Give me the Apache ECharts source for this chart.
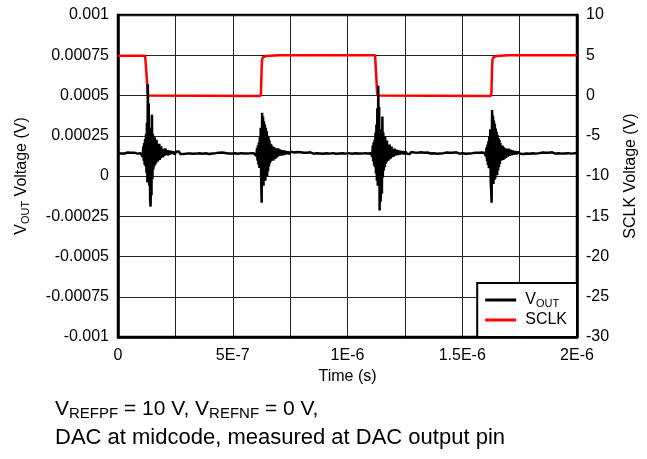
<!DOCTYPE html>
<html>
<head>
<meta charset="utf-8">
<script src="https://cdn.jsdelivr.net/npm/echarts@6/dist/echarts.min.js"></script>
<style>
html, body { margin: 0; padding: 0; background: #fff; }
#chart { width: 647px; height: 459px; }
</style>
</head>
<body>
<div id="chart"></div>
<script>
// tick labels
const xTickLabels = ['0', '', '5E-7', '', '1E-6', '', '1.5E-6', '', '2E-6'];
const yLeftLabels = ['-0.001', '-0.00075', '-0.0005', '-0.00025', '0', '0.00025', '0.0005', '0.00075', '0.001'];

// VOUT trace: [time ns, value uV]
const voutPoints = [
  [0,142],[7,145],[14,140],[21,144],[28,139],[35,143],[42,146],[49,141],[56,144],[63,140],[70,145],[77,142],[84,139],[91,144],[98,141],[104,146],
  // glitch 1
  [108,120],[110,185],[112,95],[114,205],[116,70],[118,230],[120,60],[122,260],[124,20],[126,330],[128,-40],[130,570],[132,180],[134,450],[136,-60],[138,300],[140,-150],[142,-190],[144,80],[146,-120],[148,380],[150,-20],[152,260],[154,40],[156,230],[158,60],[160,240],[162,70],[164,210],[166,80],[168,225],[170,95],[172,200],[174,90],[176,190],[178,110],[180,200],[182,100],[184,175],[186,110],[188,185],[190,120],[193,170],[196,115],[199,165],[202,125],[206,172],[210,130],[214,160],[218,128],[222,158],[226,134],[231,155],[236,138],[241,152],[247,134],[253,150],[259,139],[265,153],[271,137],[278,148],[285,136],[292,147],[299,139],
  [306,146],[313,140],[320,148],[327,138],[334,145],[341,139],[348,147],[355,141],[362,144],[369,138],[376,146],[383,141],[390,143],[397,137],[404,145],[411,140],[418,147],[425,142],[432,139],[439,145],[446,140],[453,146],[460,138],[467,143],[474,147],[481,140],[488,144],[495,139],[502,146],[509,141],[516,143],[523,138],[530,145],[537,142],[544,147],[551,140],[558,144],[565,139],[572,146],[579,142],[586,145],[592,141],
  // glitch 2
  [596,143],[600,150],[603,125],[606,175],[608,95],[610,190],[612,70],[614,210],[616,50],[618,240],[620,60],[622,300],[624,-40],[626,-166],[628,393],[630,120],[632,370],[634,-60],[636,340],[638,-20],[640,320],[642,-30],[644,300],[646,10],[648,280],[650,0],[652,250],[654,30],[656,240],[658,60],[660,220],[662,80],[664,200],[666,90],[668,195],[670,100],[673,185],[676,95],[679,180],[682,105],[685,175],[688,110],[691,170],[694,118],[698,172],[702,125],[706,165],[710,128],[715,160],[720,130],[726,158],[732,135],[738,152],[745,137],[752,150],[760,138],
  [768,146],[775,140],[782,149],[789,138],[796,147],[803,141],[810,145],[817,137],[824,144],[831,140],[838,147],[845,142],[852,139],[859,145],[866,141],[873,148],[880,140],[887,144],[894,138],[901,146],[908,141],[915,143],[922,139],[929,147],[936,142],[943,145],[950,138],[957,144],[964,140],[971,146],[978,141],[985,143],[992,139],[999,147],[1006,142],[1013,144],[1020,138],[1027,145],[1034,141],[1041,146],[1048,140],[1055,143],[1062,139],[1069,145],[1076,142],[1083,147],[1090,140],[1097,144],[1103,142],
  // glitch 3
  [1108,118],[1110,190],[1112,92],[1114,210],[1116,65],[1118,225],[1120,55],[1122,270],[1124,15],[1126,320],[1128,-30],[1130,420],[1132,-60],[1134,560],[1136,170],[1138,430],[1140,-215],[1142,290],[1144,-160],[1146,-70],[1148,70],[1150,-110],[1152,370],[1154,-10],[1156,270],[1158,35],[1160,235],[1162,55],[1164,245],[1166,75],[1168,215],[1170,85],[1172,220],[1174,100],[1176,195],[1178,95],[1180,190],[1182,108],[1184,195],[1186,105],[1188,178],[1190,112],[1192,182],[1195,118],[1198,168],[1201,120],[1205,170],[1209,127],[1213,163],[1217,130],[1221,160],[1226,132],[1231,156],[1236,136],[1241,153],[1247,135],[1253,151],[1259,138],[1265,150],[1271,136],[1278,149],[1285,138],[1292,146],[1299,140],
  [1306,145],[1313,139],[1320,147],[1327,141],[1334,144],[1341,137],[1348,146],[1355,142],[1362,140],[1369,147],[1376,141],[1383,145],[1390,138],[1397,144],[1404,140],[1411,148],[1418,142],[1425,139],[1432,146],[1439,141],[1446,144],[1453,137],[1460,145],[1467,140],[1474,147],[1481,143],[1488,139],[1495,145],[1502,141],[1509,146],[1516,138],[1523,144],[1530,140],[1537,147],[1544,142],[1551,139],[1558,145],[1565,141],[1572,144],[1579,139],[1586,146],[1592,142],
  // glitch 4
  [1596,144],[1600,152],[1603,122],[1606,178],[1608,92],[1610,195],[1612,68],[1614,215],[1616,48],[1618,245],[1620,55],[1622,290],[1624,-30],[1626,-90],[1628,-166],[1630,410],[1632,130],[1634,375],[1636,-50],[1638,345],[1640,-25],[1642,325],[1644,-15],[1646,295],[1648,15],[1650,275],[1652,5],[1654,255],[1656,35],[1658,235],[1660,55],[1662,225],[1664,75],[1666,205],[1668,95],[1670,190],[1673,98],[1676,188],[1679,100],[1682,178],[1685,108],[1688,172],[1691,112],[1694,168],[1698,120],[1702,170],[1706,126],[1710,163],[1715,129],[1720,158],[1726,133],[1732,154],[1738,136],[1745,151],[1752,138],[1759,149],
  [1766,137],[1773,147],[1780,140],[1787,145],[1794,138],[1801,146],[1808,141],[1815,144],[1822,139],[1829,147],[1836,142],[1843,140],[1850,146],[1857,141],[1864,145],[1871,138],[1878,144],[1885,140],[1892,147],[1899,142],[1906,139],[1913,145],[1920,141],[1927,146],[1934,139],[1941,144],[1948,140],[1955,147],[1962,142],[1969,145],[1976,139],[1983,144],[1990,141],[1996,143],[2000,142]
];

// SCLK trace: [time ns, volts]
const sclkPoints = [
  [0,4.95],[118,4.95],[122,4.8],[126,2],[129,0.3],[132,0],[136,-0.05],
  [620,-0.05],[623,0.3],[626,3.5],[628,4.5],[632,4.75],[645,4.9],[700,5],
  [1120,5],[1122,4.8],[1126,2],[1129,0.3],[1132,0],[1136,-0.05],
  [1624,-0.05],[1627,0.3],[1630,3.5],[1632,4.5],[1636,4.75],[1650,4.9],[1700,5],[2000,5]
];

const FONT = '"Liberation Sans", Arial, Helvetica, sans-serif';

function initChart(){
  let myChart = echarts.init(document.getElementById('chart'));

  let option = {
    animation: false,
    grid: {
      left: 118,
      right: 70,
      top: 15,
      bottom: 122,
      show: true,
      borderColor: '#000',
      borderWidth: 2.5
    },
    legend: {
      data: ['VOUT', 'SCLK'],
      orient: 'vertical',
      right: 70,
      bottom: 122,
      backgroundColor: '#fff',
      borderColor: '#000',
      borderWidth: 2,
      padding: [9, 10, 9, 8],
      itemGap: 3,
      itemWidth: 31,
      itemHeight: 3,
      icon: 'rect',
      formatter: function (name) {
        return name === 'VOUT' ? '{v|V}{s|OUT}' : '{v|SCLK}';
      },
      textStyle: {
        color: '#000',
        fontFamily: FONT,
        fontSize: 16,
        padding: [0, 0, 0, 4],
        rich: {
          v: { fontSize: 16, fontFamily: FONT, color: '#000' },
          s: { fontSize: 11, fontFamily: FONT, color: '#000', padding: [7, 0, 0, 0] }
        }
      }
    },
    xAxis: {
      type: 'value',
      min: 0,
      max: 2e-6,
      interval: 2.5e-7,
      name: 'Time (s)',
      nameLocation: 'middle',
      nameGap: 31,
      nameTextStyle: { color: '#000', fontFamily: FONT, fontSize: 16 },
      axisLine: { show: true, onZero: false, lineStyle: { color: '#000', width: 2.5 } },
      axisTick: { show: false },
      splitLine: { show: true, lineStyle: { color: '#222', width: 1 } },
      axisLabel: {
        color: '#000',
        fontFamily: FONT,
        fontSize: 16,
        margin: 11,
        formatter: function (v) {
          return xTickLabels[Math.round(v / 2.5e-7)] || '';
        }
      }
    },
    yAxis: [
      {
        type: 'value',
        min: -0.001,
        max: 0.001,
        interval: 0.00025,
        name: '{v|V}{s|OUT}{v| Voltage (V)}',
        nameLocation: 'middle',
        nameRotate: 90,
        nameGap: 87,
        nameTextStyle: {
          color: '#000',
          fontFamily: FONT,
          fontSize: 16,
          rich: {
            v: { fontSize: 16, fontFamily: FONT, color: '#000' },
            s: { fontSize: 11, fontFamily: FONT, color: '#000', padding: [7, 0, 0, 0] }
          }
        },
        axisLine: { show: true, onZero: false, lineStyle: { color: '#000', width: 2.5 } },
        axisTick: { show: false },
        splitLine: { show: true, lineStyle: { color: '#222', width: 1 } },
        axisLabel: {
          color: '#000',
          fontFamily: FONT,
          fontSize: 16,
          margin: 9,
          formatter: function (v) {
            return yLeftLabels[Math.round((v + 0.001) / 0.00025)];
          }
        }
      },
      {
        type: 'value',
        position: 'right',
        min: -30,
        max: 10,
        interval: 5,
        name: 'SCLK Voltage (V)',
        nameLocation: 'middle',
        nameRotate: 90,
        nameGap: 46,
        nameTextStyle: { color: '#000', fontFamily: FONT, fontSize: 16 },
        axisLine: { show: true, onZero: false, lineStyle: { color: '#000', width: 2.5 } },
        axisTick: { show: false },
        splitLine: { show: false },
        axisLabel: { color: '#000', fontFamily: FONT, fontSize: 16, margin: 9 }
      }
    ],
    graphic: [
      {
        type: 'text',
        left: 55,
        top: 399,
        style: {
          text: '{n|V}{s|REFPF}{n| = 10 V, V}{s|REFNF}{n| = 0 V,}',
          rich: {
            n: { fontSize: 21, fontFamily: FONT, fill: '#000' },
            s: { fontSize: 15, fontFamily: FONT, fill: '#000', padding: [9, 0, 0, 0] }
          }
        }
      },
      {
        type: 'text',
        left: 55,
        top: 427,
        style: {
          text: 'DAC at midcode, measured at DAC output pin',
          fontSize: 22,
          fontFamily: FONT,
          fill: '#000'
        }
      }
    ],
    series: [
      {
        name: 'SCLK',
        type: 'line',
        yAxisIndex: 1,
        showSymbol: false,
        symbol: 'none',
        z: 2,
        lineStyle: { color: '#ff0000', width: 2.5 },
        itemStyle: { color: '#ff0000' },
        data: sclkPoints.map(p => [p[0] * 1e-9, p[1]])
      },
      {
        name: 'VOUT',
        type: 'line',
        yAxisIndex: 0,
        showSymbol: false,
        symbol: 'none',
        z: 3,
        lineStyle: { color: '#000', width: 2.5 },
        itemStyle: { color: '#000' },
        data: voutPoints.map(p => [p[0] * 1e-9, p[1] * 1e-6])
      }
    ]
  };

  myChart.setOption(option);
  return myChart;
}

initChart();
</script>
</body>
</html>
